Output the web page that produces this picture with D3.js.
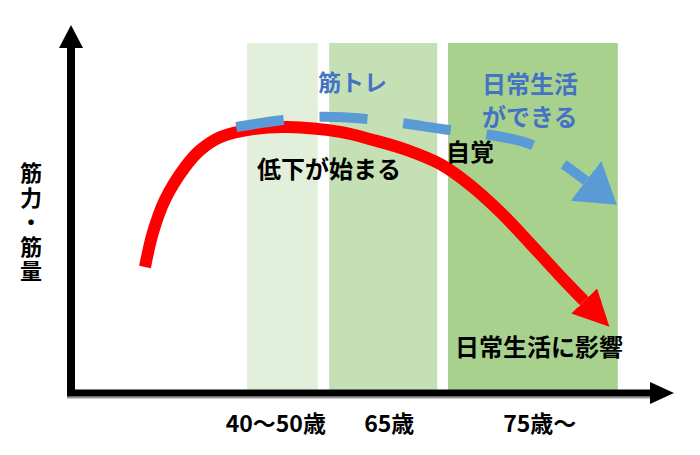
<!DOCTYPE html>
<html>
<head>
<meta charset="utf-8">
<script src="https://cdn.jsdelivr.net/npm/d3@7"></script>
<style>
  html, body { margin: 0; padding: 0; background: #fff; }
  text { font-family: "Noto Sans CJK JP", "Noto Sans", sans-serif; font-weight: 700; }
</style>
</head>
<body>
<div id="chart"></div>
<script>
// age bands (abstract x units 0-100)
const bandStart = [29.5, 43.2, 63.0];
const bandEnd = [41.3, 61.2, 91.3];
const bandColors = ['#e2efda', '#c5e0b4', '#a9d18e'];

const tickLabels = ['40～50歳', '65歳', '75歳～'];
const tickPos = [34.3, 53.2, 78.3];

// muscle strength without training (red)
const declineX = [12.5, 13.8, 15.8, 19.2, 21.7, 25.0, 30.5, 36.2, 45.0, 50.5, 56.2, 61.7, 66.7, 71.7, 76.7, 81.7, 85.7];
const declineY = [36.0, 45.7, 55.1, 64.6, 69.4, 73.1, 75.4, 76.0, 74.6, 72.3, 69.4, 65.4, 59.4, 51.7, 42.7, 33.4, 26.3];

// with training (blue dashed)
const trainX = [27.7, 35.5, 41.5, 49.5, 55.3, 63.3, 69.2, 77.0, 82.2, 86.0];
const trainY = [76.0, 78.0, 78.9, 78.3, 77.1, 75.1, 74.0, 70.9, 65.4, 60.6];

const yTitle = '筋力・筋量';

const width = 700, height = 455;

const x = d3.scaleLinear().domain([0, 100]).range([70, 670]);
const y = d3.scaleLinear().domain([0, 100]).range([393, 43]);

const svg = d3.select('#chart').append('svg')
  .attr('width', width)
  .attr('height', height);

const defs = svg.append('defs');
defs.append('marker')
  .attr('id', 'redHead')
  .attr('markerUnits', 'userSpaceOnUse')
  .attr('viewBox', '0 0 36 36')
  .attr('markerWidth', 36).attr('markerHeight', 36)
  .attr('refX', 0).attr('refY', 18)
  .attr('orient', 'auto')
  .append('path').attr('d', 'M0,0 L36,18 L0,36 Z').attr('fill', '#ff0000');
defs.append('marker')
  .attr('id', 'blueHead')
  .attr('markerUnits', 'userSpaceOnUse')
  .attr('viewBox', '0 0 39 50')
  .attr('markerWidth', 39).attr('markerHeight', 50)
  .attr('refX', 0).attr('refY', 25)
  .attr('orient', 'auto')
  .append('path').attr('d', 'M0,0 L39,25 L0,50 Z').attr('fill', '#5b9bd5');

// bands
svg.selectAll('rect.band')
  .data(bandStart)
  .join('rect')
  .attr('class', 'band')
  .attr('x', (d) => x(d))
  .attr('y', y(100))
  .attr('width', (d, i) => x(bandEnd[i]) - x(d))
  .attr('height', y(0) - y(100))
  .attr('fill', (d, i) => bandColors[i]);

// axes
const x0 = x(0) + 1, y0 = y(0);
svg.append('line')
  .attr('x1', x0 - 4).attr('y1', y0 + 4.5)
  .attr('x2', 652).attr('y2', y0 + 4.5)
  .attr('stroke', '#9a9a9a').attr('stroke-width', 2);
svg.append('line')
  .attr('x1', x0).attr('y1', y0 + 3)
  .attr('x2', x0).attr('y2', 46)
  .attr('stroke', '#000').attr('stroke-width', 8);
svg.append('path')
  .attr('d', `M${x0 - 12},48 L${x0},25 L${x0 + 12},48 Z`)
  .attr('fill', '#000');
svg.append('line')
  .attr('x1', x0 - 4).attr('y1', y0)
  .attr('x2', 652).attr('y2', y0)
  .attr('stroke', '#000').attr('stroke-width', 7);
svg.append('path')
  .attr('d', `M650,${y0 - 11} L674,${y0} L650,${y0 + 11} Z`)
  .attr('fill', '#000');

const line = d3.line().curve(d3.curveCatmullRom.alpha(0.5));

svg.append('path')
  .attr('d', line(declineX.map((d, i) => [x(d), y(declineY[i])])))
  .attr('fill', 'none')
  .attr('stroke', '#ff0000')
  .attr('stroke-width', 12)
  .attr('marker-end', 'url(#redHead)');

svg.append('path')
  .attr('d', line(trainX.map((d, i) => [x(d), y(trainY[i])])))
  .attr('fill', 'none')
  .attr('stroke', '#5b9bd5')
  .attr('stroke-width', 10)
  .attr('stroke-dasharray', '48,36')
  .attr('marker-end', 'url(#blueHead)');

// annotations
function note(txt, px, py, color, size) {
  svg.append('text')
    .attr('x', px).attr('y', py)
    .attr('fill', color)
    .style('font-size', size + 'px')
    .text(txt);
}
note('低下が始まる', 257, 178, '#000', 24);
note('自覚', 446, 161, '#000', 24);
note('日常生活に影響', 455, 356, '#000', 24);
note('筋トレ', 318, 91, '#4472c4', 23);
note('日常生活', 482, 93, '#4472c4', 24);
note('ができる', 482, 126, '#4472c4', 24);

// x tick labels
svg.selectAll('text.tick')
  .data(tickLabels)
  .join('text')
  .attr('class', 'tick')
  .attr('x', (d, i) => x(tickPos[i]))
  .attr('y', 432)
  .attr('text-anchor', 'middle')
  .style('font-size', '23px')
  .attr('fill', '#000')
  .text((d) => d);

// y title, vertical
svg.append('text')
  .attr('x', 31)
  .attr('y', 162)
  .style('writing-mode', 'vertical-rl')
  .style('font-size', '22px')
  .style('letter-spacing', '2.5px')
  .attr('fill', '#000')
  .text(yTitle);
</script>
</body>
</html>
